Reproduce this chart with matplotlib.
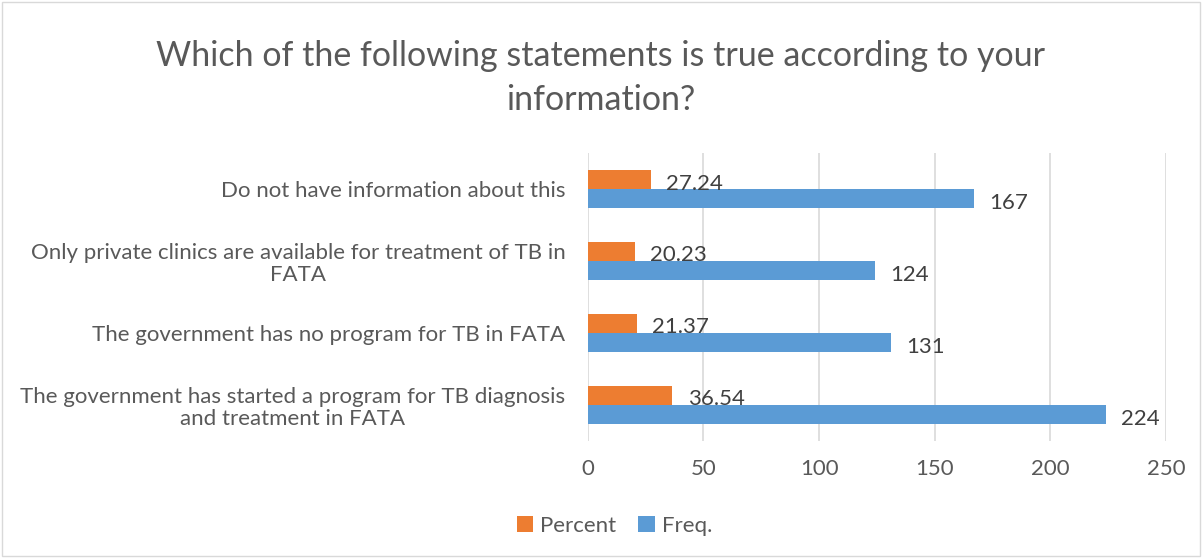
import matplotlib
matplotlib.use("Agg")
import matplotlib.pyplot as plt
from matplotlib.patches import Rectangle
import numpy as np

categories = [
    "The government has started a program for TB diagnosis\nand treatment in FATA",
    "The government has no program for TB in FATA",
    "Only private clinics are available for treatment of TB in\nFATA",
    "Do not have information about this",
]
percent = [36.54, 21.37, 20.23, 27.24]
freq = [224, 131, 124, 167]
percent_labels = ["36.54", "21.37", "20.23", "27.24"]
freq_labels = ["224", "131", "124", "167"]
xticks = [0, 50, 100, 150, 200, 250]

plt.rcParams['font.family'] = ['Lato', 'DejaVu Sans']
txt = '#595959'
orange = '#ED7D31'
blue = '#5B9BD5'

fig = plt.figure(figsize=(12.02, 5.58), dpi=100)
ax = fig.add_axes([0.489, 0.210, 0.481, 0.516])

y = np.arange(len(categories))
h = 0.265
ax.barh(y + h / 2, percent, height=h, color=orange, label='Percent', zorder=3)
ax.barh(y - h / 2, freq, height=h, color=blue, label='Freq.', zorder=3)

for yi, v, s in zip(y, percent, percent_labels):
    ax.annotate(s, (v, yi + h / 2), xytext=(11, -3), textcoords='offset points',
                ha='left', va='center', fontsize=16, color='#404040', zorder=4)
for yi, v, s in zip(y, freq, freq_labels):
    ax.annotate(s, (v, yi - h / 2), xytext=(11, -3), textcoords='offset points',
                ha='left', va='center', fontsize=16, color='#404040', zorder=4)

ax.set_xlim(0, 250)
ax.set_ylim(-0.5, len(categories) - 0.5)
ax.set_xticks(xticks)
ax.set_xticklabels([str(t) for t in xticks])
ax.set_yticks(y)
ax.set_yticklabels(categories, multialignment='center', linespacing=1.15)
ax.tick_params(axis='x', length=0, pad=13, labelsize=16, labelcolor=txt)
ax.tick_params(axis='y', length=0, pad=16, labelsize=16, labelcolor=txt)
ax.grid(axis='x', color='#D9D9D9', linewidth=1.2, zorder=0)
for sp in ax.spines.values():
    sp.set_visible(False)

fig.text(0.5, 0.928, "Which of the following statements is true according to your\ninformation?",
         ha='center', va='top', fontsize=24.5, color=txt, linespacing=1.45)

leg = fig.legend(loc='center', bbox_to_anchor=(0.511, 0.058), ncol=2, frameon=False,
                 fontsize=16, handlelength=0.75, handleheight=0.75, handletextpad=0.3,
                 columnspacing=1.0, labelcolor=txt)

fig.patches.append(Rectangle((0.002, 0.003), 0.996, 0.994, transform=fig.transFigure,
                             fill=False, edgecolor='#D9D9D9', linewidth=1))

fig.savefig('out.png', dpi=100)
